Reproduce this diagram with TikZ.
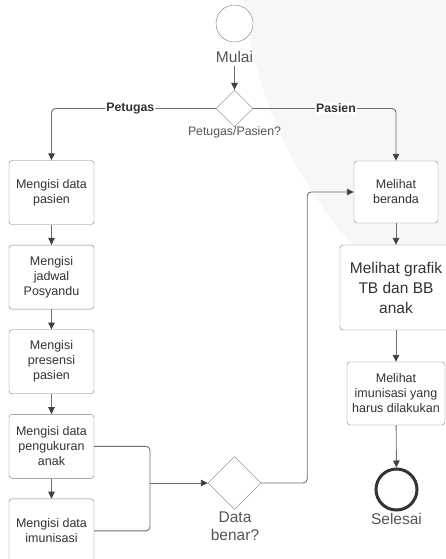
\documentclass[tikz,border=0pt]{standalone}
\usepackage{fontspec}
\setmainfont{Liberation Sans}
\usetikzlibrary{shapes.geometric,arrows.meta,positioning}
\definecolor{linegray}{HTML}{6E6E6E}
\definecolor{tipgray}{HTML}{3B4049}
\definecolor{boxgray}{HTML}{7A7A7A}
\definecolor{textgray}{HTML}{333333}
\definecolor{labelgray}{HTML}{555555}
\definecolor{bggray}{HTML}{F7F7F7}

\begin{document}
\begin{tikzpicture}[%
    x=1pt, y=-1pt,              % pixel-like coordinates, y runs down
    >={Triangle[length=7pt,width=6.5pt,color=tipgray]},
    node distance=84.6pt,       % spacing of the left column
    every node/.style={text=textgray},
    ]
% -------------------------------------------------
% Box and line styles
\tikzset{
  base/.style={draw=boxgray, fill=white, rounded corners=3pt, align=center,
    inner sep=2pt, on grid},
  proc/.style={base, minimum width=85pt, minimum height=64pt,
    font=\fontsize{12.5}{15}\selectfont},
  test/.style={draw=boxgray, fill=white, diamond, aspect=1, inner sep=0pt},
  term/.style={circle, draw=boxgray, fill=white, inner sep=0pt},
  flow/.style={->, draw=linegray, line width=0.9pt, rounded corners=4pt},
  lbl/.style={font=\fontsize{15.5}{18}\selectfont, text=labelgray, align=center},
  choice/.style={font=\bfseries\fontsize{12.3}{14}\selectfont, fill=white, inner sep=1pt}
}
\useasboundingbox (0,0) rectangle (446,559);
% faint background area
\fill [bggray] (243,0) .. controls (255,80) and (280,160) .. (350,243)
  -- (446,330) -- (446,0) -- cycle;
% -------------------------------------------------
% Start and first choice
\node [term, minimum size=37pt] (start) at (234.5,23.5) {};
\node [lbl] (startlbl) at (234.5,57) {Mulai};
\node [test, minimum size=37pt] (pilih) at (234.5,108.5) {};
\node [lbl, font=\fontsize{12.3}{14}\selectfont] (pilihlbl) at (234.5,132) {Petugas/Pasien?};

% Petugas side
\node [proc] (isipasien) at (51.5,192.5) {Mengisi data\\pasien};
\node [proc, below=of isipasien] (jadwal) {Mengisi\\jadwal\\Posyandu};
\node [proc, below=of jadwal] (presensi) {Mengisi\\presensi\\pasien};
\node [proc, below=of presensi] (ukur) {Mengisi data\\pengukuran\\anak};
\node [proc, below=of ukur] (imun) {Mengisi data\\imunisasi};

% Pasien side
\node [proc, minimum width=84pt, minimum height=62pt]
  (beranda) at (396,192) {Melihat\\beranda};
\node [base, minimum width=112pt, minimum height=85pt,
  font=\fontsize{15.5}{20}\selectfont] (grafik) at (396,287.5) {Melihat grafik\\TB dan BB\\anak};
\node [proc, minimum width=98pt, minimum height=63pt]
  (lihatimun) at (396,393.5) {Melihat\\imunisasi yang\\harus dilakukan};

% Check and end
\node [test, minimum size=53pt] (cek) at (234.5,483) {};
\node [lbl] (ceklbl) at (235,526) {Data\\benar?};
\node [term, draw=textgray, line width=3pt, minimum size=41pt] (selesai) at (396.5,489.5) {};
\node [lbl] (selesailbl) at (396.5,519) {Selesai};
\coordinate (gabung) at (150,483);

% -------------------------------------------------
% Connectors
\draw [flow] (startlbl.south) -- (pilih.north);
\draw [flow] (pilih.west) -| node [choice, pos=0.26] {Petugas} (isipasien.north);
\draw [flow] (pilih.east) -| node [choice, pos=0.29] {Pasien} (beranda.north);
\draw [flow] (isipasien) -- (jadwal);
\draw [flow] (jadwal) -- (presensi);
\draw [flow] (presensi) -- (ukur);
\draw [flow] (ukur) -- (imun);
\draw [flow, -] (ukur.east) -| (gabung) |- (imun.east);
\draw [flow] (gabung) -- (cek.west);
\draw [flow] (cek.east) -- ++(46,0) |- (beranda.west);
\draw [flow] (beranda) -- (grafik);
\draw [flow] (grafik) -- (lihatimun);
\draw [flow] (lihatimun) -- (selesai);
% -------------------------------------------------
\end{tikzpicture}
\end{document}
